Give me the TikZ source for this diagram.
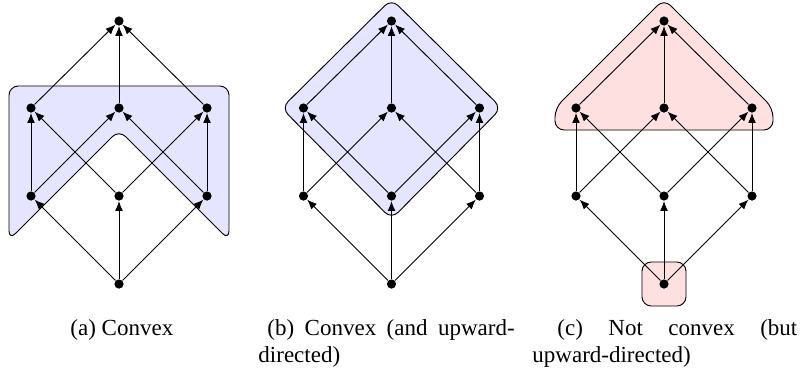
\documentclass[tikz,border=0pt]{standalone}
\usepackage{fontspec}
\setmainfont{Liberation Serif}
\usetikzlibrary{arrows.meta}
\begin{document}
\begin{tikzpicture}[x=0.43478pt,y=-0.43478pt,
  v/.style={circle,fill=black,inner sep=0pt,minimum size=4pt},
  e/.style={-{Latex[length=4.3pt,width=3.4pt]},line width=0.4pt},
  blobb/.style={draw=black,line width=0.4pt,fill=blue!10,rounded corners=4pt},
  blobr/.style={draw=black,line width=0.4pt,fill=red!12,rounded corners=4pt},
  captext/.style={inner sep=0pt,anchor=base west,font=\fontsize{10pt}{12pt}\selectfont}
]
\useasboundingbox (0,0) rectangle (801,379);
% regions
\path[blobb] (9,86) -- (229,86) -- (229,240) -- (119,130) -- (9,240) -- cycle;
\path[blobb] (391.5,-1) -- (501.5,108) -- (391.5,219) -- (281.5,108) -- cycle;
\path[blobr] (664,-1) -- (773,108) -- (773,130) -- (555,130) -- (555,108) -- cycle;
\path[blobr] (642,262) rectangle (686,306);
% lattices
\foreach \p/\cx in {a/119,b/391.5,c/664}{
  \node[v] (\p0) at (\cx,284) {};
  \node[v] (\p1l) at ({\cx-88},196) {};
  \node[v] (\p1m) at (\cx,196) {};
  \node[v] (\p1r) at ({\cx+88},196) {};
  \node[v] (\p2l) at ({\cx-88},108) {};
  \node[v] (\p2m) at (\cx,108) {};
  \node[v] (\p2r) at ({\cx+88},108) {};
  \node[v] (\p3) at (\cx,21) {};
  \draw[e] (\p0) -- (\p1l);
  \draw[e] (\p0) -- (\p1m);
  \draw[e] (\p0) -- (\p1r);
  \draw[e] (\p1l) -- (\p2l);
  \draw[e] (\p1l) -- (\p2m);
  \draw[e] (\p1m) -- (\p2l);
  \draw[e] (\p1m) -- (\p2r);
  \draw[e] (\p1r) -- (\p2m);
  \draw[e] (\p1r) -- (\p2r);
  \draw[e] (\p2l) -- (\p3);
  \draw[e] (\p2m) -- (\p3);
  \draw[e] (\p2r) -- (\p3);
}
% captions
\node[captext] (capa) at (70,335) {(a) Convex};
\node[captext] (capb1) at (267,335) {\hbox to 107.5pt{(b)\hfill Convex\hfill (and\hfill upward-}};
\node[captext] (capb2) at (258,362) {directed)};
\node[captext] (capc1) at (557,335) {\hbox to 104.3pt{(c)\hfill Not\hfill convex\hfill (but}};
\node[captext] (capc2) at (532,362) {upward-directed)};
\end{tikzpicture}
\end{document}
